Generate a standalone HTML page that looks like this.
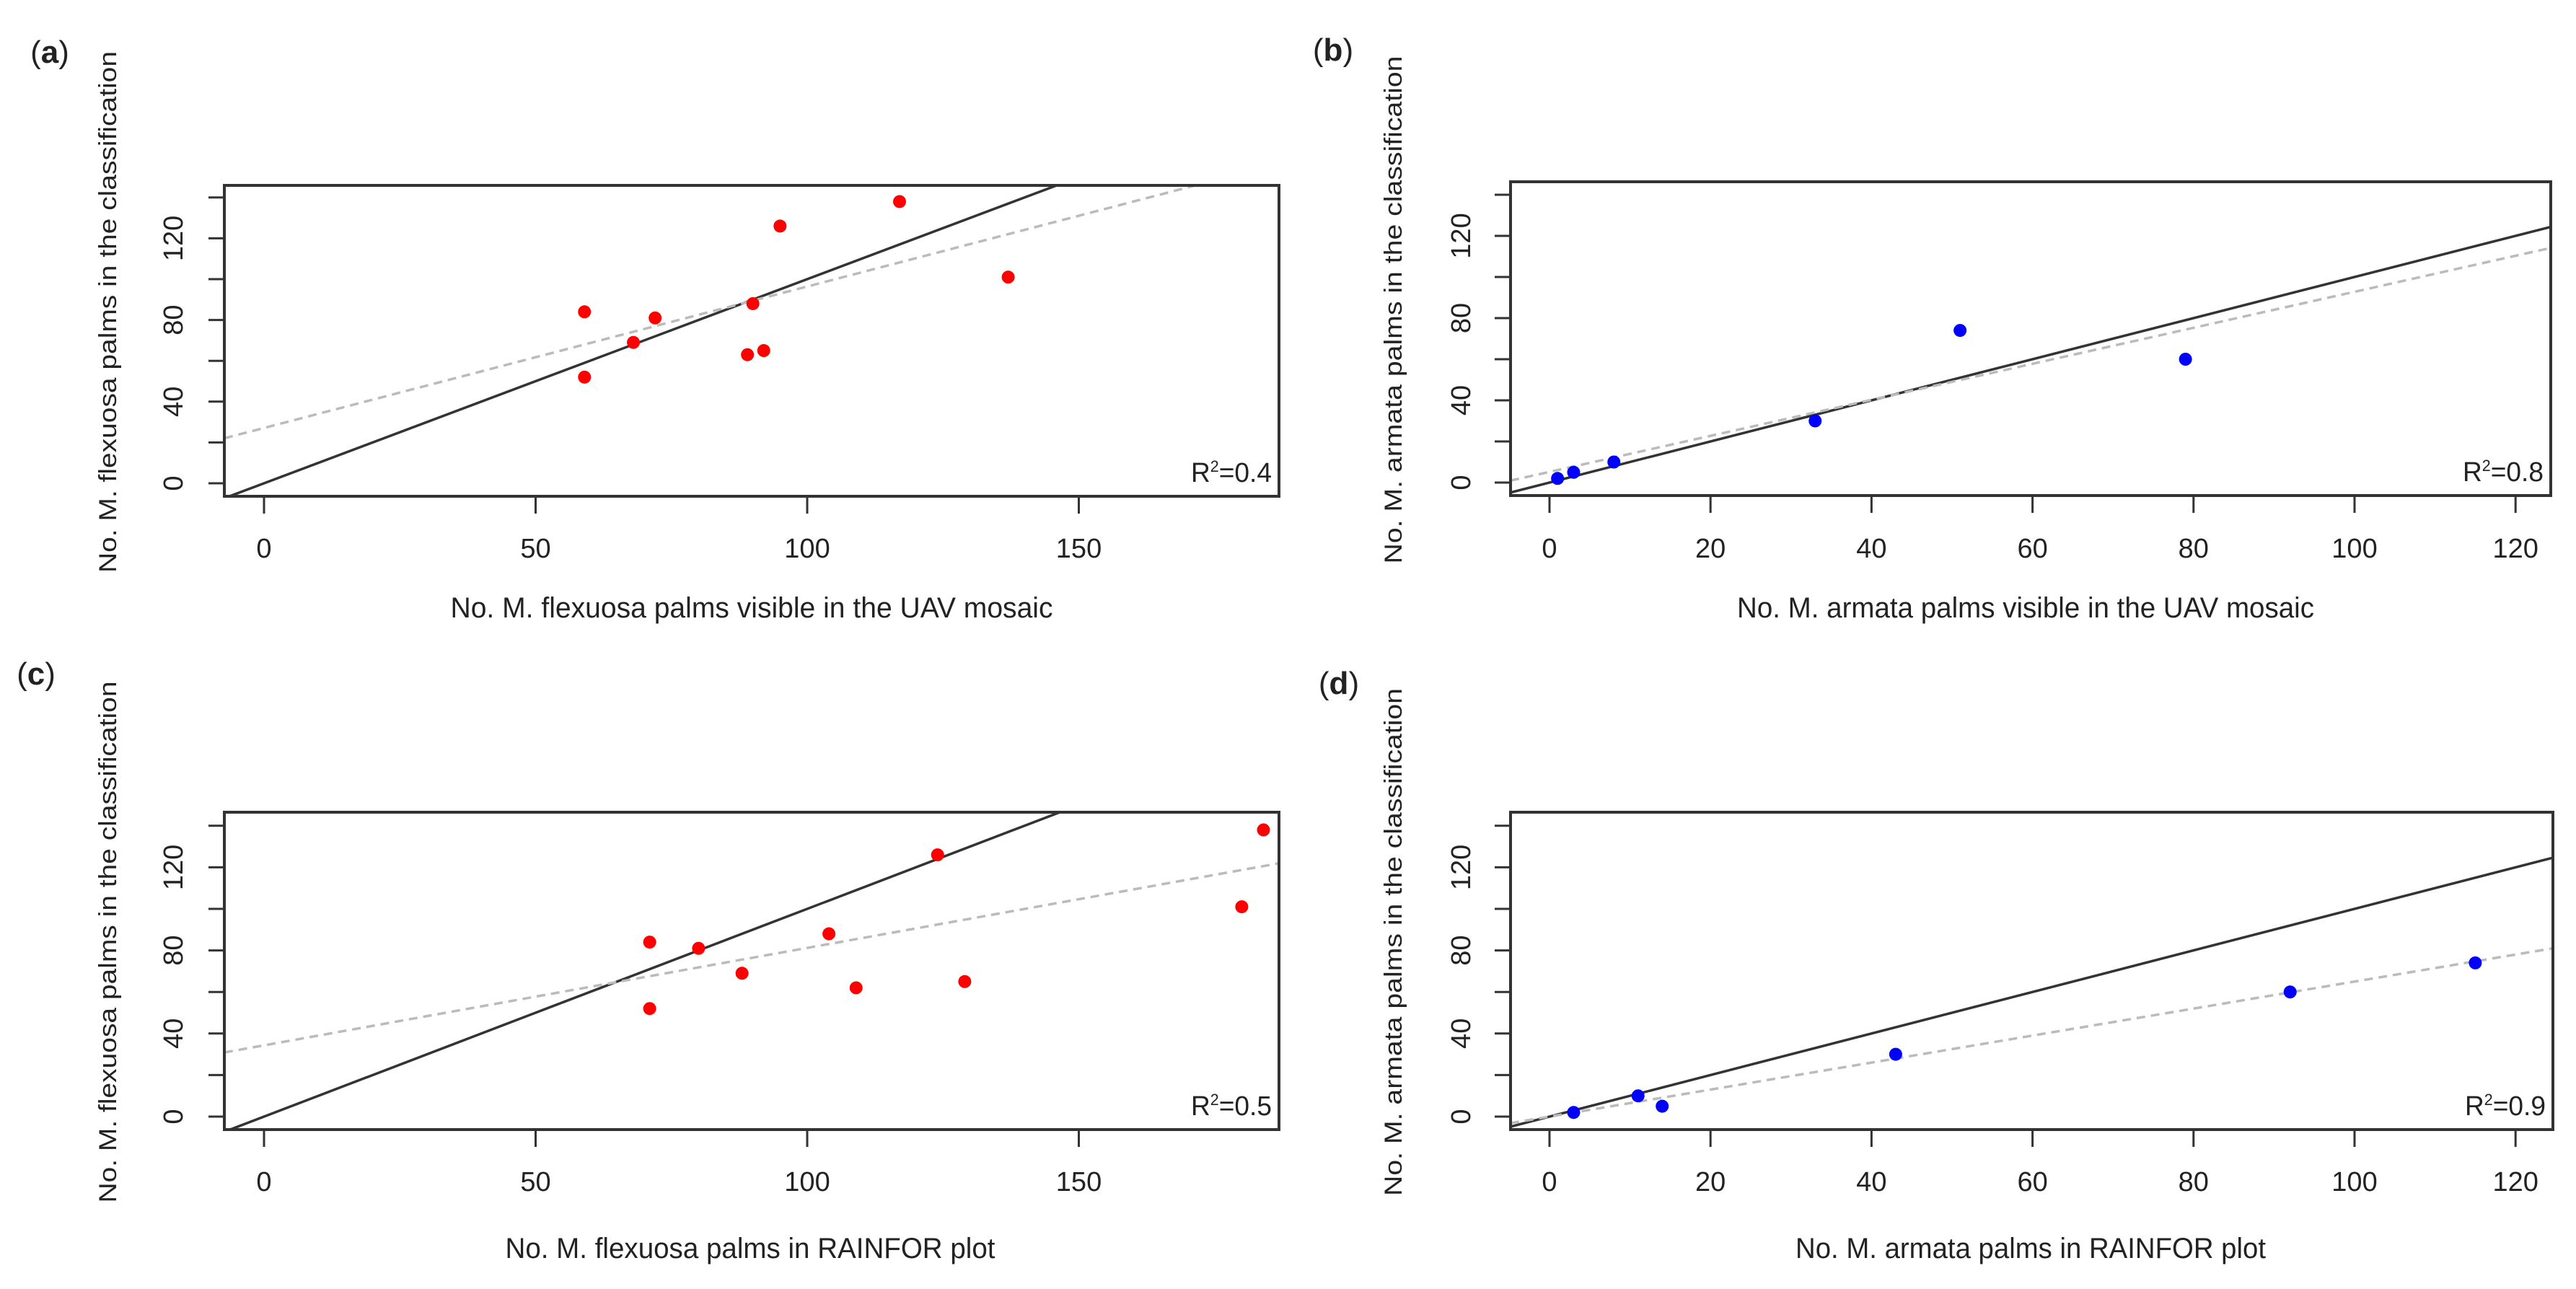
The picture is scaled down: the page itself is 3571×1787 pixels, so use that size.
<!DOCTYPE html>
<html><head><meta charset="utf-8"><style>
html,body{margin:0;padding:0;background:#fff}
svg{display:block}
text{font-family:"Liberation Sans",sans-serif;fill:#222}
</style></head><body>
<svg id="fig" width="3571" height="1787" viewBox="0 0 3571 1787" xmlns="http://www.w3.org/2000/svg"></svg>
<script>
// ---- data ----
const aX = [59,59,68,72,89,90,92,95,117,137];
const aY = [84,52,69,81,63,88,65,126,138,101];
const bX = [1,3,8,33,51,79];
const bY = [2,5,10,30,74,60];
const cX = [71,71,80,88,104,109,124,129,180,184];
const cY = [84,52,81,69,88,62,126,65,101,138];
const dX = [3,11,14,43,92,115];
const dY = [2,10,5,30,60,74];
const fitA = [27.1,0.693];
const fitB = [5.2,0.876];
const fitC = [34.3,0.469];
const fitD = [0.0,0.65];
const r2Labels = ["0.4","0.8","0.5","0.9"];
const xTicksFlex = [0,50,100,150];
const xTicksArm = [0,20,40,60,80,100,120];
const yTicks = [0,40,80,120];
const yMinorTicks = [0,20,40,60,80,100,120,140];

const NS="http://www.w3.org/2000/svg";
const svg=document.getElementById('fig');
function mk(tag,attrs,parent){const e=document.createElementNS(NS,tag);for(const k in attrs)e.setAttribute(k,attrs[k]);(parent||svg).appendChild(e);return e;}

const panels=[
 {id:'a',xs:aX,ys:aY,fit:fitA,r2:r2Labels[0],col:'#ff0000',xt:xTicksFlex,
  box:[311,257,1773,688],x0:366,xpu:7.53,y0:670,ypu:2.83,
  lab:[69,72],ylabX:149,xlabY:856,xtickY:773,ytickX:240,ylabLen:723,
  ylab:'No. M. flexuosa palms in the classification',xlab:'No. M. flexuosa palms visible in the UAV mosaic',xlabLen:835,xlabC:1042},
 {id:'b',xs:bX,ys:bY,fit:fitB,r2:r2Labels[1],col:'#0000ff',xt:xTicksArm,
  box:[2094,252,3536,687],x0:2148,xpu:11.16,y0:669,ypu:2.85,
  lab:[1848,69],ylabX:1931,xlabY:856,xtickY:773,ytickX:2025,ylabLen:704,
  ylab:'No. M. armata palms in the classification',xlab:'No. M. armata palms visible in the UAV mosaic',xlabLen:800,xlabC:2808},
 {id:'c',xs:cX,ys:cY,fit:fitC,r2:r2Labels[2],col:'#ff0000',xt:xTicksFlex,
  box:[311,1126,1773,1566],x0:366,xpu:7.53,y0:1548,ypu:2.88,
  lab:[50,934],ylabX:149,xlabY:1744,xtickY:1651,ytickX:240,ylabLen:723,
  ylab:'No. M. flexuosa palms in the classification',xlab:'No. M. flexuosa palms in RAINFOR plot',xlabLen:679,xlabC:1040},
 {id:'d',xs:dX,ys:dY,fit:fitD,r2:r2Labels[3],col:'#0000ff',xt:xTicksArm,
  box:[2094,1126,3539,1566],x0:2148,xpu:11.16,y0:1548,ypu:2.88,
  lab:[1856,947],ylabX:1931,xlabY:1744,xtickY:1651,ytickX:2025,ylabLen:704,
  ylab:'No. M. armata palms in the classification',xlab:'No. M. armata palms in RAINFOR plot',xlabLen:652,xlabC:2815}
];

panels.forEach(p=>{
  const g=mk('g',{});
  
  
  const [L,T,R,B]=p.box;
  const sx=v=>p.x0+v*p.xpu, sy=v=>p.y0-v*p.ypu;
  const ix=px=>(px-p.x0)/p.xpu;
  const defs=mk('defs',{},g);
  const cp=mk('clipPath',{id:'clip'+p.id},defs);
  mk('rect',{x:L,y:T,width:R-L,height:B-T},cp);
  const pl=mk('g',{'clip-path':'url(#clip'+p.id+')'},g);
  const v0=ix(L),v1=ix(R);
  const l1=mk('line',{x1:sx(v0),y1:sy(v0),x2:sx(v1),y2:sy(v1),stroke:'#333',"stroke-width":3.5},pl);
  
  
  const f=p.fit;
  const l2=mk('line',{x1:sx(v0),y1:sy(f[0]+f[1]*v0),x2:sx(v1),y2:sy(f[0]+f[1]*v1),stroke:'#bbb',"stroke-width":3.5,"stroke-dasharray":"12 8"},pl);
  
  
  p.xs.forEach((x,i)=>{
    const c=mk('ellipse',{cx:sx(x),cy:sy(p.ys[i]),rx:9,ry:9,fill:p.col},pl);
    
    
  });
  const box=mk('rect',{x:L,y:T,width:R-L,height:B-T,fill:'none',stroke:'#333',"stroke-width":4},g);
  
  
  p.xt.forEach(v=>{
    mk('line',{x1:sx(v),y1:B,x2:sx(v),y2:B+24,stroke:'#333',"stroke-width":3},g);
    const t=mk('text',{x:sx(v),y:p.xtickY,"text-anchor":"middle","font-size":38},g);
    t.textContent=v;
    
    
  });
  yMinorTicks.forEach(v=>{
    mk('line',{x1:L,y1:sy(v),x2:L-22,y2:sy(v),stroke:'#333',"stroke-width":3},g);
  });
  yTicks.forEach(v=>{
    const t=mk('text',{x:p.ytickX,y:sy(v),"text-anchor":"middle","font-size":38,transform:`rotate(-90 ${p.ytickX} ${sy(v)})`,dy:13},g);
    t.textContent=v;
    
    
  });
  const yc=(T+B)/2-40;
  const yl=mk('text',{x:p.ylabX,y:yc,"text-anchor":"middle","font-size":34,dy:12,transform:`rotate(-90 ${p.ylabX} ${yc})`,textLength:p.ylabLen,lengthAdjust:'spacingAndGlyphs'},g);
  yl.textContent=p.ylab;
  
  
  const xl=mk('text',{x:p.xlabC,y:p.xlabY,"text-anchor":"middle","font-size":40,textLength:p.xlabLen,lengthAdjust:'spacingAndGlyphs'},g);
  xl.textContent=p.xlab;
  
  
  const r2=mk('text',{x:R-10,y:B-20,"text-anchor":"end","font-size":38,textLength:112,lengthAdjust:'spacingAndGlyphs'},g);
  r2.innerHTML='R<tspan dy="-14" font-size="22">2</tspan><tspan dy="14">='+p.r2+'</tspan>';
  
  
  const lb=mk('text',{x:p.lab[0],y:p.lab[1]+15,"text-anchor":"middle","font-size":44,"font-family":"Liberation Serif, serif"},g);
  lb.innerHTML='(<tspan font-weight="bold">'+p.id+'</tspan>)';
  
  
});
</script>
</body></html>
